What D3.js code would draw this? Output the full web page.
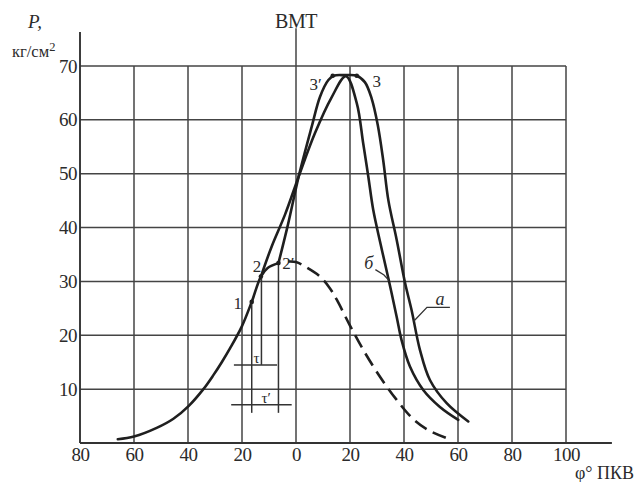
<!DOCTYPE html>
<html><head><meta charset="utf-8">
<script src="https://cdn.jsdelivr.net/npm/d3@7"></script>
<style>
html,body{margin:0;padding:0;background:#fff;}
svg{display:block;}
text{font-family:"Liberation Serif","Times New Roman",serif;fill:#2b2b2b;}
</style></head><body>
<svg id="c" width="636" height="482"></svg>
<script>
// ---- data ----
const xTicks = [-80, -60, -40, -20, 0, 20, 40, 60, 80, 100];
const yTicks = [10, 20, 30, 40, 50, 60, 70];

// compression curve (solid) up to point 2'
const compression = [[-66,0.7],[-60,1.2],[-51.6,2.8],[-45.4,4.5],[-39.7,6.9],[-34.3,10.0],[-30.6,12.6],[-27.5,15.0],[-24.4,17.6],[-20.1,21.6],[-16.4,26.2],[-13,30.9],[-10.5,32.5],[-6.5,33.4]];
// motoring curve (dashed)
const motoring = [[-3,33.7],[0,33.6],[3.9,32.6],[8.9,30.9],[12.6,28.7],[15.1,26.6],[20,21.8],[24.9,17.3],[31.1,12.3],[37.3,8.0],[43.5,4.4],[49,2.4],[55.8,0.9]];
// curve б : from point 2
const curveB = [[-13,30.9],[-9,36.5],[-4,42.5],[1,49.5],[7,57.5],[13,64],[18.5,68.1],[22.5,63.1],[24.9,55.6],[26.8,49.4],[28.6,43.3],[31.3,37],[34.2,30.6],[37.3,23.4],[39.1,19.1],[42.2,14.2],[47.2,9.8],[53.3,6.7],[60.1,4.3]];
// curve а : from point 2'
const curveA = [[-6.5,33.4],[-3,40.5],[1,49.5],[5.8,58.7],[8.9,64.3],[12,67.4],[14,68.2],[18,68.3],[22.5,68.2],[25.5,67],[28,64],[30.3,59],[32.3,52.5],[34.2,45.1],[37.3,37.7],[40.4,29.7],[42.8,24.7],[45.9,17.3],[49.6,11.7],[55.8,7.4],[63.8,4.0]];

const pointNames = ["1", "2", "2′", "3′", "3"];
const pointDeg = [-16.4, -13, -6.5, 13.6, 22.5];
const pointP = [26.2, 30.9, 33.4, 68.2, 68.2];

// injection marks: verticals [deg, P top, P bottom]
const injVert = [[-16.4, 26.2, 5.6], [-12.8, 30.9, 14.5], [-6.5, 33.4, 5.6]];
// horizontal bars [P, deg from, deg to]
const injHorz = [[14.5, -23, -7], [7.1, -24, -1.6]];
const injLabels = ["τ", "τ′"];

// ---- drawing ----
const svg = d3.select("#c");
svg.append("rect").attr("width",636).attr("height",482).attr("fill","#fff");
const x = d3.scaleLinear().domain([-80, 100]).range([80, 566]);
const y = d3.scaleLinear().domain([0, 70]).range([443, 66]);

const gridCol = "#444";
const g = svg.append("g");

// horizontal grid
g.selectAll(".hg").data(yTicks).join("line")
  .attr("x1", x(-80)).attr("x2", x(100))
  .attr("y1", d => y(d)).attr("y2", d => y(d))
  .attr("stroke", gridCol).attr("stroke-width", 1.5);
// vertical grid
g.selectAll(".vg").data(xTicks.filter(d => d > -80)).join("line")
  .attr("x1", d => x(d)).attr("x2", d => x(d))
  .attr("y1", y(0)).attr("y2", d => d === 0 ? y(77) : y(70))
  .attr("stroke", gridCol).attr("stroke-width", 1.5);
// axes lines
g.append("line").attr("x1", x(-80)).attr("x2", x(-80)).attr("y1", y(0)).attr("y2", y(76.3))
  .attr("stroke", "#333").attr("stroke-width", 1.9);
g.append("line").attr("x1", x(-80)).attr("x2", x(117)).attr("y1", y(0)).attr("y2", y(0))
  .attr("stroke", "#333").attr("stroke-width", 1.9);

// tick labels via d3 axes
const xa = svg.append("g").attr("transform", `translate(0,${y(0)})`)
  .call(d3.axisBottom(x).tickValues(xTicks).tickSize(0).tickPadding(5).tickFormat(d => Math.abs(d)));
xa.select(".domain").remove();
xa.selectAll("text").attr("font-size", 19).attr("font-family", "Liberation Serif").attr("fill", "#2b2b2b").attr("letter-spacing", -0.5);
const ya = svg.append("g").attr("transform", `translate(${x(-80)},0)`)
  .call(d3.axisLeft(y).tickValues(yTicks).tickSize(0).tickPadding(3));
ya.select(".domain").remove();
ya.selectAll("text").attr("font-size", 19).attr("font-family", "Liberation Serif").attr("fill", "#2b2b2b").attr("letter-spacing", -0.5);

// axis titles
svg.append("text").attr("x", 28).attr("y", 28).attr("font-size", 19).attr("font-style", "italic").text("P,");
const ut = svg.append("text").attr("x", 12).attr("y", 57).attr("font-size", 16.5);
ut.append("tspan").text("кг/см");
ut.append("tspan").attr("dy", -6).attr("font-size", 12.5).text("2");
svg.append("text").attr("x", x(0)).attr("y", 28).attr("text-anchor", "middle").attr("font-size", 20).attr("letter-spacing", -0.5).text("ВМТ");
svg.append("text").attr("x", 634).attr("y", 479).attr("text-anchor", "end").attr("font-size", 18).text("φ° ПКВ");

// curves
const line = d3.line().x(d => x(d[0])).y(d => y(d[1])).curve(d3.curveCatmullRom.alpha(0.5));
const curveCol = "#1f1f1f";
[compression, curveB, curveA].forEach(c => {
  svg.append("path").attr("d", line(c)).attr("fill", "none").attr("stroke", curveCol)
    .attr("stroke-width", 2.6).attr("stroke-linejoin", "round").attr("stroke-linecap", "round");
});
svg.append("path").attr("d", line(motoring)).attr("fill", "none").attr("stroke", curveCol)
  .attr("stroke-width", 2.6).attr("stroke-dasharray", "14,7");

// injection marks
injVert.forEach(v => {
  svg.append("line").attr("x1", x(v[0])).attr("x2", x(v[0])).attr("y1", y(v[1])).attr("y2", y(v[2]))
    .attr("stroke", "#333").attr("stroke-width", 1.5);
});
injHorz.forEach((h, i) => {
  svg.append("line").attr("x1", x(h[1])).attr("x2", x(h[2])).attr("y1", y(h[0])).attr("y2", y(h[0]))
    .attr("stroke", "#333").attr("stroke-width", 1.5);
});
svg.append("text").attr("x", (x(injVert[0][0]) + x(injVert[1][0])) / 2).attr("y", y(injHorz[0][0]) - 2)
  .attr("text-anchor", "middle").attr("font-size", 15).text(injLabels[0]);
svg.append("text").attr("x", (x(injVert[0][0]) + x(injVert[2][0])) / 2 + 1).attr("y", y(injHorz[1][0]) - 2)
  .attr("text-anchor", "middle").attr("font-size", 15).text(injLabels[1]);

// points
const offs = [[-14, 7], [-4, -5], [10, 6], [-17, 14], [20, 11]];
pointNames.forEach((n, i) => {
  svg.append("circle").attr("cx", x(pointDeg[i])).attr("cy", y(pointP[i])).attr("r", 2.3).attr("fill", curveCol);
  svg.append("text").attr("x", x(pointDeg[i]) + offs[i][0]).attr("y", y(pointP[i]) + offs[i][1])
    .attr("text-anchor", "middle").attr("font-size", 17).text(n);
});

// curve labels with leaders
svg.append("text").attr("x", x(27)).attr("y", y(32.3)).attr("text-anchor", "middle")
  .attr("font-size", 18).attr("font-style", "italic").text("б");
svg.append("path").attr("d", d3.line()([[x(29.4), y(32.2)], [x(32.6), y(31.2)], [x(34.4), y(30.2)]]))
  .attr("fill", "none").attr("stroke", "#333").attr("stroke-width", 1.3);
svg.append("text").attr("x", x(53.3)).attr("y", y(25.6)).attr("text-anchor", "middle")
  .attr("font-size", 18).attr("font-style", "italic").text("а");
svg.append("path").attr("d", d3.line()([[x(57), y(25.2)], [x(48.5), y(25.2)], [x(43.6), y(22.6)]]))
  .attr("fill", "none").attr("stroke", "#333").attr("stroke-width", 1.3);
</script>
</body></html>
